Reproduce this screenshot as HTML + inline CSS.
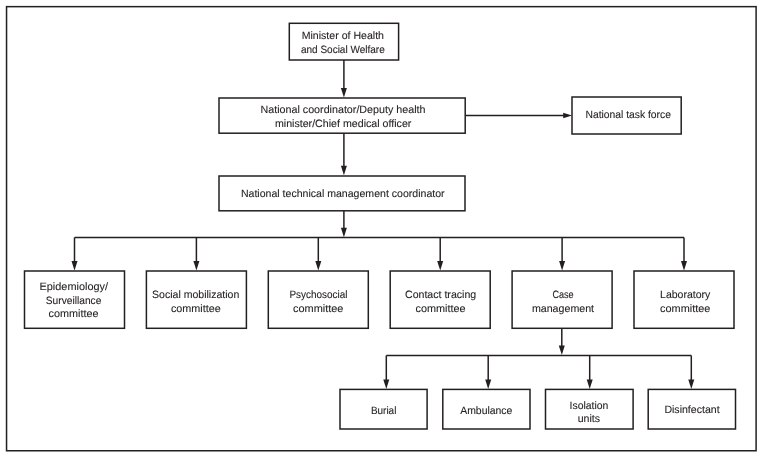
<!DOCTYPE html>
<html><head><meta charset="utf-8"><style>
html,body{margin:0;padding:0;background:#fff;width:763px;height:458px;overflow:hidden}
svg{display:block;will-change:transform}
text{font-family:"Liberation Sans",sans-serif;fill:#231f20;stroke:#231f20;stroke-width:0.1px;text-rendering:geometricPrecision}
</style></head><body>
<svg width="763" height="458" viewBox="0 0 763 458">
<rect x="6.55" y="6.65" width="749.55" height="444.10" fill="none" stroke="#231f20" stroke-width="1.5"/>
<rect x="289.3" y="23.3" width="109.30" height="36.70" fill="none" stroke="#231f20" stroke-width="1.5"/>
<text x="301.7" y="38.8" textLength="82.30" lengthAdjust="spacingAndGlyphs" font-size="10.6">Minister of Health</text>
<text x="300.9" y="52.5" textLength="83.90" lengthAdjust="spacingAndGlyphs" font-size="10.6">and Social Welfare</text>
<line x1="343.9" y1="60.0" x2="343.9" y2="92" stroke="#231f20" stroke-width="1.5"/>
<path d="M340.90 87.90 L346.90 87.90 L343.90 97.40 Z" fill="#231f20"/>
<rect x="219.0" y="98.0" width="246.20" height="35.20" fill="none" stroke="#231f20" stroke-width="1.5"/>
<text x="260.5" y="112.5" textLength="165.00" lengthAdjust="spacingAndGlyphs" font-size="10.6">National coordinator/Deputy health</text>
<text x="274.9" y="126.6" textLength="136.50" lengthAdjust="spacingAndGlyphs" font-size="10.6">minister/Chief medical officer</text>
<line x1="465.2" y1="115.5" x2="566" y2="115.5" stroke="#231f20" stroke-width="1.5"/>
<path d="M563.20 112.70 L563.20 118.30 L572.00 115.50 Z" fill="#231f20"/>
<rect x="572.0" y="97.0" width="109.20" height="37.00" fill="none" stroke="#231f20" stroke-width="1.5"/>
<text x="585.5" y="117.6" textLength="85.40" lengthAdjust="spacingAndGlyphs" font-size="10.6">National task force</text>
<line x1="343.9" y1="133.2" x2="343.9" y2="170" stroke="#231f20" stroke-width="1.5"/>
<path d="M340.90 165.80 L346.90 165.80 L343.90 175.30 Z" fill="#231f20"/>
<rect x="219.0" y="176.0" width="246.00" height="34.80" fill="none" stroke="#231f20" stroke-width="1.5"/>
<text x="240.9" y="196.7" textLength="203.70" lengthAdjust="spacingAndGlyphs" font-size="10.6">National technical management coordinator</text>
<line x1="343.9" y1="210.8" x2="343.9" y2="232" stroke="#231f20" stroke-width="1.5"/>
<path d="M340.90 227.70 L346.90 227.70 L343.90 237.20 Z" fill="#231f20"/>
<line x1="74.5" y1="237.5" x2="684.0" y2="237.5" stroke="#231f20" stroke-width="1.5"/>
<line x1="74.5" y1="237.5" x2="74.5" y2="265" stroke="#231f20" stroke-width="1.5"/>
<path d="M71.50 261.10 L77.50 261.10 L74.50 270.60 Z" fill="#231f20"/>
<rect x="24.5" y="271.0" width="100.00" height="57.30" fill="none" stroke="#231f20" stroke-width="1.5"/>
<line x1="196.4" y1="237.5" x2="196.4" y2="265" stroke="#231f20" stroke-width="1.5"/>
<path d="M193.40 261.10 L199.40 261.10 L196.40 270.60 Z" fill="#231f20"/>
<rect x="146.4" y="271.0" width="100.00" height="57.30" fill="none" stroke="#231f20" stroke-width="1.5"/>
<line x1="318.3" y1="237.5" x2="318.3" y2="265" stroke="#231f20" stroke-width="1.5"/>
<path d="M315.30 261.10 L321.30 261.10 L318.30 270.60 Z" fill="#231f20"/>
<rect x="268.3" y="271.0" width="100.00" height="57.30" fill="none" stroke="#231f20" stroke-width="1.5"/>
<line x1="440.20000000000005" y1="237.5" x2="440.20000000000005" y2="265" stroke="#231f20" stroke-width="1.5"/>
<path d="M437.20 261.10 L443.20 261.10 L440.20 270.60 Z" fill="#231f20"/>
<rect x="390.20000000000005" y="271.0" width="100.00" height="57.30" fill="none" stroke="#231f20" stroke-width="1.5"/>
<line x1="562.1" y1="237.5" x2="562.1" y2="265" stroke="#231f20" stroke-width="1.5"/>
<path d="M559.10 261.10 L565.10 261.10 L562.10 270.60 Z" fill="#231f20"/>
<rect x="512.1" y="271.0" width="100.00" height="57.30" fill="none" stroke="#231f20" stroke-width="1.5"/>
<line x1="684.0" y1="237.5" x2="684.0" y2="265" stroke="#231f20" stroke-width="1.5"/>
<path d="M681.00 261.10 L687.00 261.10 L684.00 270.60 Z" fill="#231f20"/>
<rect x="634.0" y="271.0" width="100.00" height="57.30" fill="none" stroke="#231f20" stroke-width="1.5"/>
<text x="39.5" y="290.3" textLength="68.50" lengthAdjust="spacingAndGlyphs" font-size="10.6">Epidemiology/</text>
<text x="45.8" y="303.9" textLength="55.60" lengthAdjust="spacingAndGlyphs" font-size="10.6">Surveillance</text>
<text x="48.6" y="317.3" textLength="49.90" lengthAdjust="spacingAndGlyphs" font-size="10.6">committee</text>
<text x="152.1" y="298" textLength="87.20" lengthAdjust="spacingAndGlyphs" font-size="10.6">Social mobilization</text>
<text x="170.9" y="311.6" textLength="49.90" lengthAdjust="spacingAndGlyphs" font-size="10.6">committee</text>
<text x="289.4" y="298" textLength="58.10" lengthAdjust="spacingAndGlyphs" font-size="10.6">Psychosocial</text>
<text x="293" y="311.6" textLength="50.40" lengthAdjust="spacingAndGlyphs" font-size="10.6">committee</text>
<text x="405" y="298" textLength="71.20" lengthAdjust="spacingAndGlyphs" font-size="10.6">Contact tracing</text>
<text x="415.6" y="311.6" textLength="50.00" lengthAdjust="spacingAndGlyphs" font-size="10.6">committee</text>
<text x="552.4" y="298" textLength="21.20" lengthAdjust="spacingAndGlyphs" font-size="10.6">Case</text>
<text x="531.9" y="311.6" textLength="62.20" lengthAdjust="spacingAndGlyphs" font-size="10.6">management</text>
<text x="660.1" y="298" textLength="50.20" lengthAdjust="spacingAndGlyphs" font-size="10.6">Laboratory</text>
<text x="660.1" y="311.6" textLength="50.20" lengthAdjust="spacingAndGlyphs" font-size="10.6">committee</text>
<line x1="561.8" y1="328.3" x2="561.8" y2="350" stroke="#231f20" stroke-width="1.5"/>
<path d="M558.80 345.50 L564.80 345.50 L561.80 355.00 Z" fill="#231f20"/>
<line x1="386.3" y1="355.5" x2="691.3" y2="355.5" stroke="#231f20" stroke-width="1.5"/>
<line x1="386.3" y1="355.5" x2="386.3" y2="383" stroke="#231f20" stroke-width="1.5"/>
<path d="M383.30 379.50 L389.30 379.50 L386.30 389.00 Z" fill="#231f20"/>
<rect x="340.0" y="389.4" width="87.10" height="39.60" fill="none" stroke="#231f20" stroke-width="1.5"/>
<line x1="488.2" y1="355.5" x2="488.2" y2="383" stroke="#231f20" stroke-width="1.5"/>
<path d="M485.20 379.50 L491.20 379.50 L488.20 389.00 Z" fill="#231f20"/>
<rect x="442.8" y="389.4" width="87.20" height="39.60" fill="none" stroke="#231f20" stroke-width="1.5"/>
<line x1="589.7" y1="355.5" x2="589.7" y2="383" stroke="#231f20" stroke-width="1.5"/>
<path d="M586.70 379.50 L592.70 379.50 L589.70 389.00 Z" fill="#231f20"/>
<rect x="545.5" y="389.4" width="87.60" height="39.60" fill="none" stroke="#231f20" stroke-width="1.5"/>
<line x1="691.3" y1="355.5" x2="691.3" y2="383" stroke="#231f20" stroke-width="1.5"/>
<path d="M688.30 379.50 L694.30 379.50 L691.30 389.00 Z" fill="#231f20"/>
<rect x="648.2" y="389.4" width="87.30" height="39.60" fill="none" stroke="#231f20" stroke-width="1.5"/>
<text x="370.9" y="413.8" textLength="25.50" lengthAdjust="spacingAndGlyphs" font-size="10.6">Burial</text>
<text x="460.2" y="413.8" textLength="52.20" lengthAdjust="spacingAndGlyphs" font-size="10.6">Ambulance</text>
<text x="569.6" y="409.0" textLength="38.80" lengthAdjust="spacingAndGlyphs" font-size="10.6">Isolation</text>
<text x="577.7" y="422.3" textLength="22.40" lengthAdjust="spacingAndGlyphs" font-size="10.6">units</text>
<text x="664.4" y="412.8" textLength="55.20" lengthAdjust="spacingAndGlyphs" font-size="10.6">Disinfectant</text>
</svg>
</body></html>
